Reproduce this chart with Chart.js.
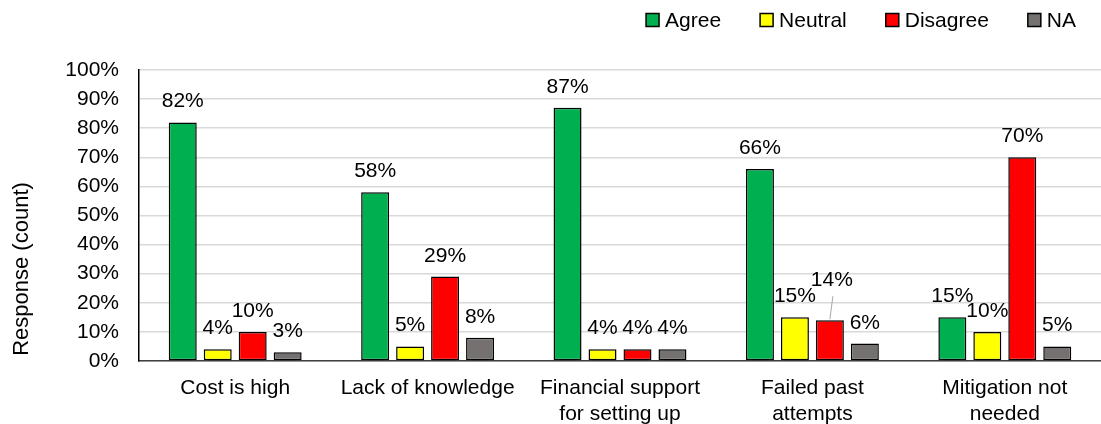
<!DOCTYPE html>
<html>
<head>
<meta charset="utf-8">
<script src="https://cdn.jsdelivr.net/npm/chart.js@4/dist/chart.umd.min.js"></script>
<style>
  html, body { margin: 0; padding: 0; background: #fff; }
  #wrap { width: 1101px; height: 424px; position: relative; }
</style>
</head>
<body>
<div id="wrap"><canvas id="barriersChart"></canvas></div>
<script>
// categories and responses (percent)
const categories = [
  ['Cost is high'],
  ['Lack of knowledge'],
  ['Financial support', 'for setting up'],
  ['Failed past', 'attempts'],
  ['Mitigation not', 'needed']
];
const agree    = [82, 58, 87, 66, 15];
const neutral  = [4, 5, 4, 15, 10];
const disagree = [10, 29, 4, 14, 70];
const na       = [3, 8, 4, 6, 5];
const yTicks   = [0, 10, 20, 30, 40, 50, 60, 70, 80, 90, 100];

const FONT = '"Liberation Sans", Arial, sans-serif';
const SIZE = 21;

// labels that get pushed up with a leader line: "dataset-index" -> extra lift (px)
const liftedLabels = { '2-3': 19 };

const valueLabels = {
  id: 'valueLabels',
  afterDatasetsDraw(chart) {
    const ctx = chart.ctx;
    ctx.save();
    ctx.font = SIZE + 'px ' + FONT;
    ctx.fillStyle = '#000';
    ctx.textAlign = 'center';
    ctx.textBaseline = 'alphabetic';
    chart.data.datasets.forEach((ds, di) => {
      chart.getDatasetMeta(di).data.forEach((bar, i) => {
        const lift = liftedLabels[di + '-' + i] || 0;
        const y = bar.y - 15 - lift;
        if (lift) {
          ctx.strokeStyle = '#a6a6a6';
          ctx.lineWidth = 1;
          ctx.beginPath();
          ctx.moveTo(bar.x + 3, y + 10);
          ctx.lineTo(bar.x, bar.y - 1);
          ctx.stroke();
        }
        ctx.fillText(ds.data[i] + '%', bar.x + (lift ? 2 : 0), y);
      });
    });
    ctx.restore();
  }
};

// y axis title, drawn by hand so it can sit lower than the axis centre
const yTitle = {
  id: 'yTitle',
  afterDraw(chart) {
    const ctx = chart.ctx;
    ctx.save();
    ctx.translate(22, 269);
    ctx.rotate(-Math.PI / 2);
    ctx.font = '22px ' + FONT;
    ctx.fillStyle = '#000';
    ctx.textAlign = 'center';
    ctx.textBaseline = 'middle';
    ctx.fillText('Response (count)', 0, 0);
    ctx.restore();
  }
};

// compact legend row in the top right corner
const legendRow = {
  id: 'legendRow',
  afterDraw(chart) {
    const ctx = chart.ctx;
    const box = 13, gap = 6, spacing = 39, right = 1076, cy = 20;
    ctx.save();
    ctx.font = SIZE + 'px ' + FONT;
    ctx.textBaseline = 'middle';
    ctx.textAlign = 'left';
    const items = chart.data.datasets.map(ds => ({
      text: ds.label, color: ds.backgroundColor, w: ctx.measureText(ds.label).width
    }));
    let total = items.reduce((s, it) => s + box + gap + it.w, 0) + spacing * (items.length - 1);
    let x = right - total;
    items.forEach(it => {
      ctx.fillStyle = it.color;
      ctx.fillRect(x, cy - box / 2, box, box);
      ctx.strokeStyle = '#000';
      ctx.lineWidth = 1.5;
      ctx.strokeRect(x, cy - box / 2, box, box);
      ctx.fillStyle = '#000';
      ctx.fillText(it.text, x + box + gap, cy + 1);
      x += box + gap + it.w + spacing;
    });
    ctx.restore();
  }
};

const outline = { borderColor: '#000', borderWidth: 1.5, borderSkipped: false };

new Chart(document.getElementById('barriersChart'), {
  type: 'bar',
  data: {
    labels: categories,
    datasets: [
      { label: 'Agree', data: agree, backgroundColor: '#00b050', ...outline },
      { label: 'Neutral', data: neutral, backgroundColor: '#ffff00', ...outline },
      { label: 'Disagree', data: disagree, backgroundColor: '#ff0000', ...outline },
      { label: 'NA', data: na, backgroundColor: '#767171', ...outline }
    ]
  },
  options: {
    responsive: true,
    maintainAspectRatio: false,
    animation: false,
    datasets: { bar: { categoryPercentage: 0.727, barPercentage: 0.8 } },
    layout: { padding: { left: 59, right: 0, top: 70, bottom: 0 } },
    plugins: {
      tooltip: { enabled: false },
      legend: { display: false }
    },
    scales: {
      x: {
        grid: { display: false, drawTicks: false },
        border: { display: true, color: '#404040', width: 1.5 },
        ticks: {
          font: { size: SIZE, family: FONT, lineHeight: 1.25 },
          color: '#000',
          padding: 14,
          maxRotation: 0,
          autoSkip: false
        },
        afterFit(scale) { scale.height = 63; }
      },
      y: {
        min: 0,
        max: 100,
        afterBuildTicks(scale) { scale.ticks = yTicks.map(v => ({ value: v })); },
        grid: { color: '#d9d9d9', lineWidth: 1.5, drawTicks: false },
        border: { display: true, color: '#000', width: 1.5 },
        ticks: {
          font: { size: SIZE, family: FONT },
          color: '#000',
          padding: 20,
          callback: v => v + '%'
        },
        afterFit(scale) { scale.width = 80; }
      }
    }
  },
  plugins: [valueLabels, yTitle, legendRow]
});
</script>
</body>
</html>
